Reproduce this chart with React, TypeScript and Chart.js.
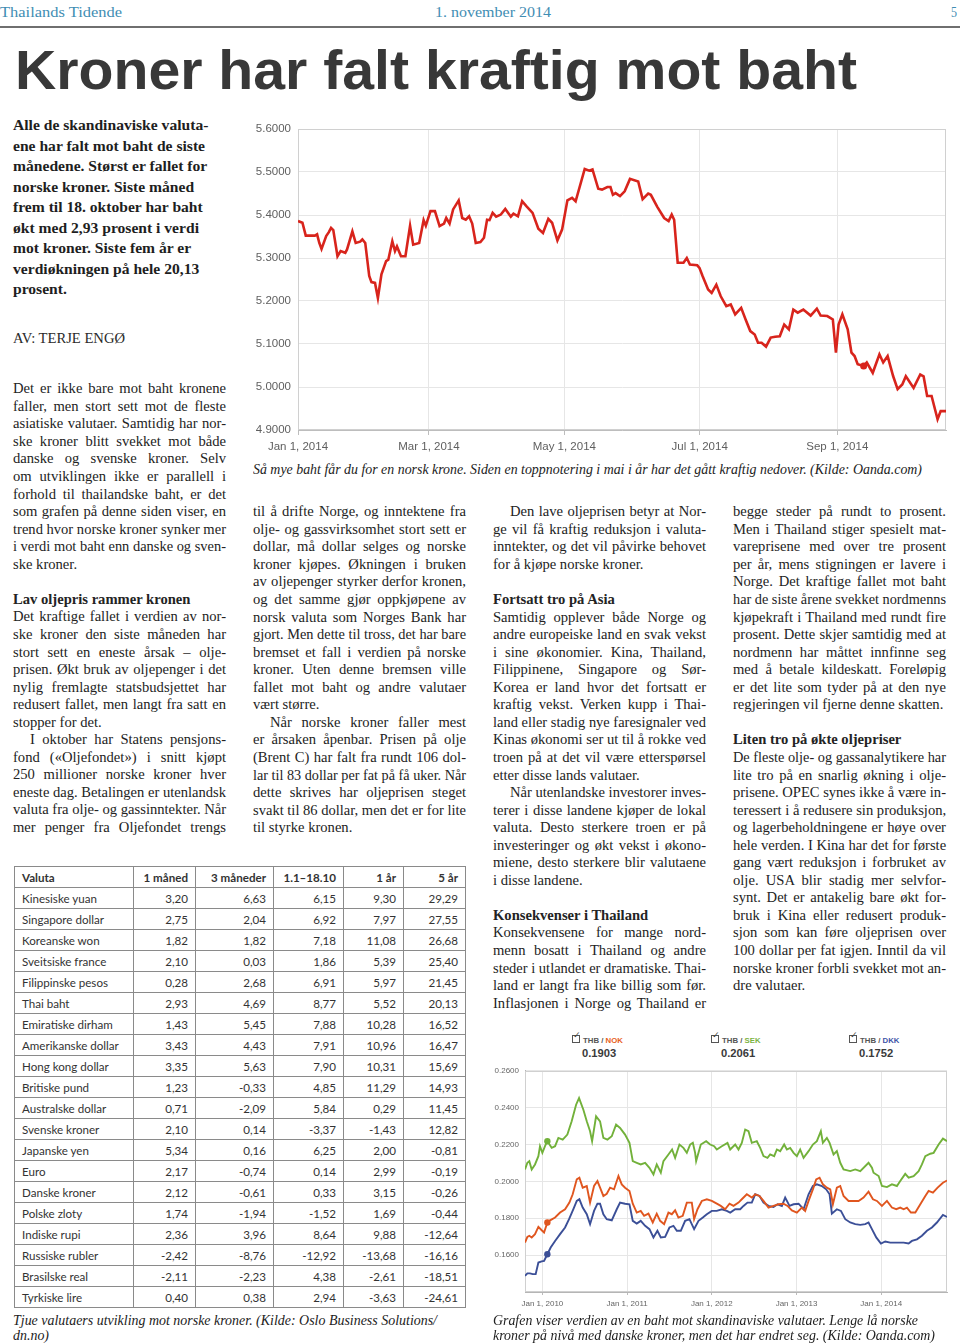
import React, { useEffect, useLayoutEffect, useRef } from "react";
import { Chart, registerables } from "chart.js";
Chart.register(...registerables);

// ---------- Main chart: baht per norsk krone, 2014 (x = days since Jan 1, 2014) ----------
const mainDays = [0, 2, 3.5, 7.6, 8.6, 9.6, 10.6, 12.7, 13.9, 14.9, 15.9, 17.8, 19.2, 21.3, 22.1, 24.5, 26.0, 28.0, 29.0, 30.3,
  32.1, 33.1, 34.7, 36.0, 37.6, 39.7, 40.7, 42.5, 43.7, 44.6, 46.4, 48.4, 50.5, 51.9, 54.6, 56.6, 57.6, 59.7, 61.7, 63.8,
  65.8, 66.8, 68.3, 69.9, 72.4, 74.0, 75.6, 77.1, 78.5, 80.1, 82.2, 83.8, 85.2, 86.3, 87.7, 89.3, 91.4, 93.4, 95.9, 97.1,
  99.1, 101.0, 103.0, 105.7, 108.3, 110.4, 112.8, 114.5, 116.9, 119.0, 121.4, 123.5, 125.1, 129.2, 131.2, 132.7, 135.3, 137.0, 139.4, 140.8,
  141.9, 143.1, 145.1, 147.2, 149.6, 153.3, 155.3, 157.8, 159.0, 161.9, 165.0, 167.0, 168.4, 169.5, 171.1, 173.7, 175.2, 176.6, 179.9, 180.9,
  182.3, 184.8, 186.4, 188.5, 190.5, 193.0, 195.0, 197.0, 199.7, 201.7, 203.8, 205.8, 207.3, 208.9, 210.9, 213.0, 215.0, 217.1, 219.1, 221.2,
  223.2, 225.2, 227.7, 231.0, 233.8, 235.5, 238.5, 241.0, 242.4, 243.6, 245.3, 247.7, 249.4, 250.8, 252.2, 254.9, 256.3, 259.0, 262.0, 263.7,
  265.7, 268.2, 270.2, 272.3, 273.9, 277.4, 280.4, 281.9, 283.5, 285.5, 288.2, 289.6, 292.0];
const mainRates = [5.386, 5.382, 5.352, 5.352, 5.355, 5.335, 5.321, 5.351, 5.360, 5.370, 5.365, 5.304, 5.316, 5.312, 5.320, 5.362, 5.335, 5.338, 5.343, 5.335,
  5.258, 5.244, 5.242, 5.207, 5.262, 5.293, 5.296, 5.339, 5.316, 5.327, 5.304, 5.304, 5.375, 5.331, 5.335, 5.388, 5.375, 5.409, 5.409, 5.374,
  5.380, 5.393, 5.380, 5.413, 5.434, 5.393, 5.389, 5.397, 5.380, 5.335, 5.337, 5.347, 5.389, 5.388, 5.405, 5.396, 5.401, 5.414, 5.396, 5.403,
  5.397, 5.432, 5.420, 5.405, 5.368, 5.358, 5.391, 5.382, 5.341, 5.366, 5.434, 5.440, 5.432, 5.507, 5.503, 5.506, 5.461, 5.459, 5.465, 5.465,
  5.447, 5.451, 5.444, 5.455, 5.484, 5.478, 5.437, 5.450, 5.447, 5.419, 5.393, 5.386, 5.401, 5.389, 5.289, 5.289, 5.300, 5.285, 5.283, 5.277,
  5.258, 5.227, 5.219, 5.238, 5.211, 5.188, 5.192, 5.169, 5.184, 5.157, 5.130, 5.122, 5.103, 5.103, 5.094, 5.115, 5.117, 5.118, 5.145, 5.134,
  5.180, 5.173, 5.180, 5.166, 5.182, 5.166, 5.165, 5.157, 5.080, 5.145, 5.169, 5.134, 5.080, 5.072, 5.053, 5.049, 5.057, 5.033, 5.076, 5.057,
  5.072, 5.025, 4.995, 5.006, 5.025, 4.998, 5.029, 5.025, 4.979, 4.979, 4.925, 4.944, 4.944];
const mainTickDays = [0, 59, 120, 181, 243];
const mainTickLabels = ["Jan 1, 2014", "Mar 1, 2014", "May 1, 2014", "Jul 1, 2014", "Sep 1, 2014"];
const mainMarkerDay = 254.9;

// ---------- Second chart: value of one baht in NOK / SEK / DKK (x = year) ----------
const yearTicks = [2010, 2011, 2012, 2013, 2014];
const sekYears = [2009.795, 2009.823, 2009.846, 2009.874, 2009.913, 2009.953, 2009.972, 2010.000, 2010.031, 2010.059, 2010.110, 2010.150, 2010.189, 2010.240, 2010.295, 2010.346, 2010.398, 2010.433, 2010.484, 2010.524,
  2010.563, 2010.587, 2010.634, 2010.681, 2010.720, 2010.768, 2010.819, 2010.870, 2010.917, 2010.976, 2011.028, 2011.067, 2011.114, 2011.161, 2011.213, 2011.264, 2011.311, 2011.350, 2011.398, 2011.429,
  2011.488, 2011.531, 2011.567, 2011.618, 2011.665, 2011.705, 2011.744, 2011.776, 2011.803, 2011.815, 2011.870, 2011.933, 2011.980, 2012.028, 2012.059, 2012.118, 2012.185, 2012.217, 2012.276, 2012.315,
  2012.354, 2012.394, 2012.433, 2012.472, 2012.531, 2012.571, 2012.610, 2012.657, 2012.689, 2012.736, 2012.768, 2012.807, 2012.854, 2012.886, 2012.925, 2012.965, 2013.004, 2013.043, 2013.083, 2013.142,
  2013.193, 2013.240, 2013.287, 2013.311, 2013.358, 2013.390, 2013.437, 2013.476, 2013.516, 2013.555, 2013.634, 2013.693, 2013.752, 2013.850, 2013.890, 2013.909, 2013.969, 2014.008, 2014.067, 2014.126,
  2014.185, 2014.224, 2014.283, 2014.323, 2014.382, 2014.441, 2014.480, 2014.520, 2014.579, 2014.618, 2014.677, 2014.728, 2014.776];
const sekRates = [0.2065, 0.2101, 0.2110, 0.2065, 0.2092, 0.2137, 0.2191, 0.2155, 0.2191, 0.2218, 0.2182, 0.2191, 0.2236, 0.2227, 0.2254, 0.2326, 0.2416, 0.2452, 0.2389, 0.2326,
  0.2272, 0.2218, 0.2353, 0.2326, 0.2236, 0.2227, 0.2245, 0.2308, 0.2290, 0.2254, 0.2209, 0.2110, 0.2101, 0.2092, 0.2101, 0.2074, 0.2038, 0.2092, 0.2047, 0.2110,
  0.2146, 0.2173, 0.2128, 0.2200, 0.2182, 0.2155, 0.2200, 0.2209, 0.2155, 0.2110, 0.2200, 0.2218, 0.2200, 0.2191, 0.2173, 0.2191, 0.2209, 0.2173, 0.2200, 0.2173,
  0.2209, 0.2281, 0.2272, 0.2209, 0.2218, 0.2182, 0.2137, 0.2128, 0.2146, 0.2137, 0.2173, 0.2164, 0.2200, 0.2173, 0.2182, 0.2155, 0.2137, 0.2173, 0.2128, 0.2164,
  0.2200, 0.2218, 0.2272, 0.2209, 0.2236, 0.2209, 0.2146, 0.2164, 0.2101, 0.2065, 0.2056, 0.2065, 0.2056, 0.2101, 0.2074, 0.2047, 0.2029, 0.1975, 0.1969, 0.1984,
  0.1975, 0.2002, 0.2041, 0.2020, 0.2029, 0.2056, 0.2092, 0.2137, 0.2150, 0.2155, 0.2200, 0.2232, 0.2218];
const nokYears = [2009.795, 2009.823, 2009.846, 2009.874, 2009.913, 2009.953, 2009.992, 2010.020, 2010.059, 2010.091, 2010.150, 2010.209, 2010.268, 2010.319, 2010.358, 2010.406, 2010.437, 2010.476, 2010.524, 2010.563,
  2010.610, 2010.650, 2010.681, 2010.720, 2010.760, 2010.799, 2010.846, 2010.898, 2010.937, 2010.976, 2011.028, 2011.067, 2011.114, 2011.161, 2011.201, 2011.252, 2011.303, 2011.350, 2011.390, 2011.437,
  2011.488, 2011.528, 2011.567, 2011.606, 2011.657, 2011.705, 2011.764, 2011.791, 2011.831, 2011.882, 2011.941, 2012.000, 2012.059, 2012.106, 2012.157, 2012.209, 2012.256, 2012.315, 2012.354, 2012.413,
  2012.472, 2012.512, 2012.563, 2012.610, 2012.669, 2012.728, 2012.787, 2012.846, 2012.894, 2012.945, 2013.004, 2013.063, 2013.102, 2013.142, 2013.193, 2013.232, 2013.272, 2013.311, 2013.358, 2013.398,
  2013.429, 2013.476, 2013.516, 2013.555, 2013.614, 2013.673, 2013.732, 2013.791, 2013.850, 2013.902, 2013.949, 2014.008, 2014.067, 2014.126, 2014.177, 2014.224, 2014.264, 2014.303, 2014.350, 2014.402,
  2014.461, 2014.520, 2014.559, 2014.610, 2014.665, 2014.728, 2014.776];
const nokRates = [0.1668, 0.1699, 0.1705, 0.1696, 0.1714, 0.1753, 0.1735, 0.1723, 0.1777, 0.1789, 0.1804, 0.1831, 0.1849, 0.1885, 0.1930, 0.2011, 0.2020, 0.1966, 0.1975, 0.1885,
  0.1975, 0.2002, 0.1966, 0.1921, 0.1933, 0.1966, 0.1957, 0.2029, 0.1984, 0.1966, 0.1948, 0.1879, 0.1831, 0.1840, 0.1813, 0.1825, 0.1777, 0.1825, 0.1786, 0.1768,
  0.1831, 0.1822, 0.1843, 0.1804, 0.1813, 0.1885, 0.1885, 0.1795, 0.1849, 0.1894, 0.1903, 0.1894, 0.1879, 0.1867, 0.1849, 0.1879, 0.1867, 0.1885, 0.1903, 0.1930,
  0.1912, 0.1930, 0.1921, 0.1894, 0.1858, 0.1867, 0.1876, 0.1879, 0.1867, 0.1843, 0.1831, 0.1858, 0.1840, 0.1894, 0.1957, 0.2011, 0.2020, 0.1984, 0.1966, 0.1957,
  0.1876, 0.1966, 0.1975, 0.1921, 0.1894, 0.1894, 0.1894, 0.1912, 0.1944, 0.1903, 0.1894, 0.1867, 0.1894, 0.1858, 0.1849, 0.1858, 0.1849, 0.1858, 0.1831, 0.1831,
  0.1876, 0.1921, 0.1948, 0.1939, 0.1966, 0.1993, 0.2005];
const dkkYears = [2009.795, 2009.823, 2009.854, 2009.886, 2009.921, 2009.953, 2009.992, 2010.020, 2010.059, 2010.098, 2010.150, 2010.209, 2010.268, 2010.315, 2010.366, 2010.406, 2010.437, 2010.476, 2010.524, 2010.563,
  2010.610, 2010.650, 2010.681, 2010.720, 2010.760, 2010.819, 2010.878, 2010.917, 2010.976, 2011.028, 2011.067, 2011.114, 2011.161, 2011.213, 2011.264, 2011.311, 2011.358, 2011.398, 2011.449, 2011.500,
  2011.547, 2011.587, 2011.634, 2011.685, 2011.736, 2011.791, 2011.843, 2011.894, 2011.941, 2012.000, 2012.059, 2012.118, 2012.177, 2012.217, 2012.276, 2012.335, 2012.374, 2012.421, 2012.472, 2012.512,
  2012.563, 2012.610, 2012.669, 2012.728, 2012.776, 2012.827, 2012.866, 2012.917, 2012.965, 2013.024, 2013.083, 2013.142, 2013.193, 2013.240, 2013.299, 2013.350, 2013.390, 2013.417, 2013.476, 2013.524,
  2013.575, 2013.634, 2013.693, 2013.752, 2013.811, 2013.850, 2013.890, 2013.941, 2013.996, 2014.047, 2014.106, 2014.185, 2014.264, 2014.323, 2014.362, 2014.421, 2014.480, 2014.539, 2014.598, 2014.657,
  2014.728, 2014.776];
const dkkRates = [0.1488, 0.1501, 0.1501, 0.1497, 0.1497, 0.1560, 0.1566, 0.1569, 0.1605, 0.1641, 0.1677, 0.1714, 0.1750, 0.1795, 0.1849, 0.1894, 0.1903, 0.1858, 0.1822, 0.1768,
  0.1840, 0.1879, 0.1879, 0.1822, 0.1795, 0.1789, 0.1849, 0.1885, 0.1879, 0.1876, 0.1786, 0.1771, 0.1786, 0.1759, 0.1741, 0.1696, 0.1732, 0.1696, 0.1699, 0.1750,
  0.1759, 0.1732, 0.1732, 0.1786, 0.1795, 0.1741, 0.1786, 0.1804, 0.1822, 0.1840, 0.1840, 0.1849, 0.1840, 0.1831, 0.1849, 0.1849, 0.1867, 0.1885, 0.1885, 0.1930,
  0.1921, 0.1885, 0.1867, 0.1861, 0.1876, 0.1867, 0.1912, 0.1867, 0.1876, 0.1879, 0.1849, 0.1930, 0.1975, 0.1984, 0.1975, 0.1957, 0.1930, 0.1825, 0.1849, 0.1840,
  0.1795, 0.1777, 0.1768, 0.1764, 0.1768, 0.1777, 0.1741, 0.1696, 0.1663, 0.1674, 0.1668, 0.1668, 0.1668, 0.1663, 0.1677, 0.1686, 0.1705, 0.1732, 0.1750, 0.1777,
  0.1818, 0.1807];
const markerYear = 2010.059;
const legendCodes = ["NOK", "SEK", "DKK"];
const legendValues = ["0.1903", "0.2061", "0.1752"];
const seriesColors = ["#e0561f", "#72b13a", "#3b4f97"];
const legendCodeColors = ["#e8601c", "#7cb342", "#3f55a8"];

// ---------- Table ----------
const tableHeader = ["Valuta", "1 måned", "3 måneder", "1.1–18.10", "1 år", "5 år"];
const currencies = ["Kinesiske yuan", "Singapore dollar", "Koreanske won", "Sveitsiske france", "Filippinske pesos", "Thai baht", "Emiratiske dirham", "Amerikanske dollar", "Hong kong dollar", "Britiske pund",
  "Australske dollar", "Svenske kroner", "Japanske yen", "Euro", "Danske kroner", "Polske zloty", "Indiske rupi", "Russiske rubler", "Brasilske real", "Tyrkiske lire"];
const oneMonth = [3.20, 2.75, 1.82, 2.10, 0.28, 2.93, 1.43, 3.43, 3.35, 1.23, 0.71, 2.10, 5.34, 2.17, 2.12, 1.74, 2.36, -2.42, -2.11, 0.40];
const threeMonths = [6.63, 2.04, 1.82, 0.03, 2.68, 4.69, 5.45, 4.43, 5.63, -0.33, -2.09, 0.14, 0.16, -0.74, -0.61, -1.94, 3.96, -8.76, -2.23, 0.38];
const yearToDate = [6.15, 6.92, 7.18, 1.86, 6.91, 8.77, 7.88, 7.91, 7.90, 4.85, 5.84, -3.37, 6.25, 0.14, 0.33, -1.52, 8.64, -12.92, 4.38, 2.94];
const oneYear = [9.30, 7.97, 11.08, 5.39, 5.97, 5.52, 10.28, 10.96, 10.31, 11.29, 0.29, -1.43, 2.00, 2.99, 3.15, 1.69, 9.88, -13.68, -2.61, -3.63];
const fiveYears = [29.29, 27.55, 26.68, 25.40, 21.45, 20.13, 16.52, 16.47, 15.69, 14.93, 11.45, 12.82, -0.81, -0.19, -0.26, -0.44, -12.64, -16.16, -18.51, -24.61];

// ---------- Article text ----------
const leadLines = ["Alle de skandinaviske valuta-", "ene har falt mot baht de siste", "månedene. Størst er fallet for", "norske kroner. Siste måned",
  "frem til 18. oktober har baht", "økt med 2,93 prosent i verdi", "mot kroner. Siste fem år er", "verdiøkningen på hele 20,13", "prosent."];
const col1 = ["Det er ikke bare mot baht kronene", "faller, men stort sett mot de fleste", "asiatiske valutaer. Samtidig har nor-", "ske kroner blitt svekket mot både",
  "danske og svenske kroner. Selv", "om utviklingen ikke er parallell i", "forhold til thailandske baht, er det", "som grafen på denne siden viser, en",
  "trend hvor norske kroner synker mer", "i verdi mot baht enn danske og sven-", "E:ske kroner.", "", "H:Lav oljepris rammer kronen",
  "Det kraftige fallet i verdien av nor-", "ske kroner den siste måneden har", "stort sett en eneste årsak – olje-", "prisen. Økt bruk av oljepenger i det",
  "nylig fremlagte statsbudsjettet har", "redusert fallet, men langt fra satt en", "E:stopper for det.", "I:I oktober har Statens pensjons-",
  "fond («Oljefondet») i snitt kjøpt", "250 millioner norske kroner hver", "eneste dag. Betalingen er utenlandsk", "valuta fra olje- og gassinntekter. Når",
  "mer penger fra Oljefondet trengs"];
const col2 = ["til å drifte Norge, og inntektene fra", "olje- og gassvirksomhet stort sett er", "dollar, må dollar selges og norske", "kroner kjøpes. Økningen i bruken",
  "av oljepenger styrker derfor kronen,", "og det samme gjør oppkjøpene av", "norsk valuta som Norges Bank har", "gjort. Men dette til tross, det har bare",
  "bremset et fall i verdien på norske", "kroner. Uten denne bremsen ville", "fallet mot baht og andre valutaer", "E:vært større.",
  "I:Når norske kroner faller mest", "er årsaken åpenbar. Prisen på olje", "(Brent C) har falt fra rundt 106 dol-", "lar til 83 dollar per fat på få uker. Når",
  "dette skrives har oljeprisen steget", "svakt til 86 dollar, men det er for lite", "E:til styrke kronen."];
const col3 = ["I:Den lave oljeprisen betyr at Nor-", "ge vil få kraftig reduksjon i valuta-", "inntekter, og det vil påvirke behovet", "E:for å kjøpe norske kroner.", "",
  "H:Fortsatt tro på Asia", "Samtidig opplever både Norge og", "andre europeiske land en svak vekst", "i sine økonomier. Kina, Thailand,",
  "Filippinene, Singapore og Sør-", "Korea er land hvor det fortsatt er", "kraftig vekst. Verken kupp i Thai-", "land eller stadig nye faresignaler ved",
  "Kinas økonomi ser ut til å rokke ved", "troen på at det vil være etterspørsel", "E:etter disse lands valutaer.", "I:Når utenlandske investorer inves-",
  "terer i disse landene kjøper de lokal", "valuta. Desto sterkere troen er på", "investeringer og økt vekst i økono-", "miene, desto sterkere blir valutaene",
  "E:i disse landene.", "", "H:Konsekvenser i Thailand", "Konsekvensene for mange nord-", "menn bosatt i Thailand og andre",
  "steder i utlandet er dramatiske. Thai-", "land er langt fra like billig som før.", "Inflasjonen i Norge og Thailand er"];
const col4 = ["begge steder på rundt to prosent.", "Men i Thailand stiger spesielt mat-", "vareprisene med over tre prosent", "per år, mens stigningen er lavere i",
  "Norge. Det kraftige fallet mot baht", "har de siste årene svekket nordmenns", "kjøpekraft i Thailand med rundt fire", "prosent. Dette skjer samtidig med at",
  "nordmenn har måttet innfinne seg", "med å betale kildeskatt. Foreløpig", "er det lite som tyder på at den nye", "E:regjeringen vil fjerne denne skatten.", "",
  "H:Liten tro på økte oljepriser", "De fleste olje- og gassanalytikere har", "lite tro på en snarlig økning i olje-", "prisene. OPEC synes ikke å være in-",
  "teressert i å redusere sin produksjon,", "og lagerbeholdningene er høye over", "hele verden. I Kina har det for første", "gang vært reduksjon i forbruket av",
  "olje. USA blir stadig mer selvfor-", "synt. Det er antakelig bare økt for-", "bruk i Kina eller redusert produk-", "sjon som kan føre oljeprisen over",
  "100 dollar per fat igjen. Inntil da vil", "norske kroner forbli svekket mot an-", "E:dre valutaer."];

const SERIF = "'Liberation Serif', 'Times New Roman', serif";
const SANS = "'Liberation Sans', Arial, sans-serif";

const framePlugin = {
  id: "frame",
  beforeDatasetsDraw(chart: any, _a: any, opts: any) {
    const { ctx, chartArea } = chart;
    ctx.save();
    ctx.strokeStyle = opts.color || "#ccc";
    ctx.lineWidth = 1;
    ctx.strokeRect(Math.round(chartArea.left) + 0.5, Math.round(chartArea.top) + 0.5,
      Math.round(chartArea.right - chartArea.left) - 1, Math.round(chartArea.bottom - chartArea.top) - 1);
    ctx.restore();
  },
};

function nearestIndex(arr: number[], v: number) {
  let best = 0;
  arr.forEach((a, i) => { if (Math.abs(a - v) < Math.abs(arr[best] - v)) best = i; });
  return best;
}

function MainChart() {
  const ref = useRef<HTMLCanvasElement>(null);
  useEffect(() => {
    const mark = nearestIndex(mainDays, mainMarkerDay);
    const chart = new Chart(ref.current!, {
      type: "line",
      data: {
        datasets: [{
          data: mainDays.map((d, i) => ({ x: d, y: mainRates[i] })),
          borderColor: "#d8241c", borderWidth: 2.6, tension: 0,
          pointRadius: (c: any) => (c.dataIndex === mark ? 3.5 : 0),
          pointBackgroundColor: "#d8241c", pointBorderWidth: 0,
        }],
      },
      options: {
        animation: false, responsive: false, maintainAspectRatio: false,
        layout: { padding: { left: 0, right: 14, top: 19, bottom: 0 } },
        plugins: { legend: { display: false }, tooltip: { enabled: false }, frame: { color: "#d0d0d0" } } as any,
        scales: {
          x: {
            type: "linear", min: 0, max: 292,
            afterBuildTicks: (s: any) => { s.ticks = mainTickDays.map((v) => ({ value: v })); },
            afterFit: (s: any) => { s.height = 30; },
            ticks: {
              autoSkip: false, maxRotation: 0, padding: 5, color: "#5f5f5f",
              font: { family: SANS, size: 11.5 },
              callback: (v: any) => { const i = mainTickDays.indexOf(Number(v)); return i >= 0 ? mainTickLabels[i] : ""; },
            },
            grid: { color: "#e6e6e6", tickLength: 5, tickColor: "#bdbdbd" },
            border: { color: "#bdbdbd" },
          },
          y: {
            min: 4.9, max: 5.6,
            afterFit: (s: any) => { s.width = 48; },
            ticks: { stepSize: 0.1, padding: 7, color: "#5f5f5f", font: { family: SANS, size: 11.5 }, callback: (v: any) => Number(v).toFixed(4) },
            grid: { color: "#e6e6e6", drawTicks: false, tickLength: 0 },
            border: { color: "#bdbdbd" },
          },
        },
      },
      plugins: [framePlugin],
    });
    return () => chart.destroy();
  }, []);
  return <canvas ref={ref} width={710} height={350} style={{ position: "absolute", left: 250, top: 110, width: 710, height: 350 }} />;
}

function BahtChart() {
  const ref = useRef<HTMLCanvasElement>(null);
  useEffect(() => {
    const series = [
      { xs: nokYears, ys: nokRates, color: seriesColors[0] },
      { xs: sekYears, ys: sekRates, color: seriesColors[1] },
      { xs: dkkYears, ys: dkkRates, color: seriesColors[2] },
    ];
    const chart = new Chart(ref.current!, {
      type: "line",
      data: {
        datasets: series.map((s) => {
          const mark = nearestIndex(s.xs, markerYear);
          const n = Math.min(s.xs.length, s.ys.length);
          return {
            data: s.xs.slice(0, n).map((x, i) => ({ x, y: s.ys[i] })),
            borderColor: s.color, borderWidth: 1.9, tension: 0,
            pointRadius: (c: any) => (c.dataIndex === mark ? 3.2 : 0),
            pointBackgroundColor: s.color, pointBorderWidth: 0,
          };
        }),
      },
      options: {
        animation: false, responsive: false, maintainAspectRatio: false,
        layout: { padding: { left: 0, right: 13, top: 9, bottom: 0 } },
        plugins: { legend: { display: false }, tooltip: { enabled: false }, frame: { color: "#d0d0d0" } } as any,
        scales: {
          x: {
            type: "linear", min: 2009.795, max: 2014.776,
            afterBuildTicks: (s: any) => { s.ticks = yearTicks.map((v) => ({ value: v })); },
            afterFit: (s: any) => { s.height = 23; },
            ticks: {
              autoSkip: false, maxRotation: 0, padding: 4, color: "#666",
              font: { family: SANS, size: 8 },
              callback: (v: any) => "Jan 1, " + Math.round(Number(v)),
            },
            grid: { color: "#e6e6e6", tickLength: 3, tickColor: "#bbb" },
            border: { color: "#b5b5b5" },
          },
          y: {
            min: 0.14, max: 0.26,
            afterFit: (s: any) => { s.width = 35; },
            ticks: { stepSize: 0.02, padding: 6, color: "#666", font: { family: SANS, size: 8 }, callback: (v: any) => (Number(v) < 0.141 ? "" : Number(v).toFixed(4)) },
            grid: { color: "#e6e6e6", drawTicks: false, tickLength: 0 },
            border: { color: "#b5b5b5" },
          },
        },
      },
      plugins: [framePlugin],
    });
    return () => chart.destroy();
  }, []);
  return <canvas ref={ref} width={470} height={255} style={{ position: "absolute", left: 490, top: 1060, width: 470, height: 255 }} />;
}

type LineProps = { x: number; y: number; w: number; text: string; mode?: "j" | "l" | "e"; size: number; lh: number; weight?: any; italic?: boolean; color?: string; family?: string; indent?: number };
function Line({ x, y, w, text, mode = "l", size, lh, weight = 400, italic = false, color = "#232323", family = SERIF, indent = 0 }: LineProps) {
  const ww = w - indent;
  return (
    <div data-fit={mode} data-w={ww} style={{
      position: "absolute", left: x + indent, top: y - lh / 2 - 1, width: ww, height: lh, lineHeight: lh + "px",
      fontFamily: family, fontSize: size, fontWeight: weight, fontStyle: italic ? "italic" : "normal", color,
      whiteSpace: "nowrap", textAlign: mode === "j" ? "justify" : "left", textAlignLast: mode === "j" ? "justify" : "left",
      transformOrigin: "0 0",
    } as any}><span>{text}</span></div>
  );
}

function Column({ lines, x, y0, w }: { lines: string[]; x: number; y0: number; w: number }) {
  const step = 17.55;
  return (
    <>
      {lines.map((raw, i) => {
        if (!raw) return null;
        const y = y0 + i * step;
        if (raw.startsWith("H:")) return <Line key={i} x={x} y={y} w={w} text={raw.slice(2)} size={14.6} lh={17.5} weight={700} />;
        let t = raw, indent = 0, mode: "j" | "l" = "j";
        if (t.startsWith("I:")) { t = t.slice(2); indent = 17; }
        if (t.startsWith("E:")) { t = t.slice(2); mode = "l"; }
        return <Line key={i} x={x} y={y} w={w} text={t} size={14.6} lh={17.5} mode={mode} indent={indent} />;
      })}
    </>
  );
}

const fmt = (v: number) => v.toFixed(2).replace(".", ",");

function Table() {
  const widths = [119, 62, 78, 70, 60, 62];
  const rows = currencies.map((c, i) => [c, fmt(oneMonth[i]), fmt(threeMonths[i]), fmt(yearToDate[i]), fmt(oneYear[i]), fmt(fiveYears[i])]);
  const cell = (txt: string, j: number, bold: boolean) => (
    <td key={j} style={{
      border: "1px solid #8a8a8a", padding: j === 0 ? "0 0 0 7px" : "0 7px 0 0", overflow: "hidden",
      textAlign: j === 0 ? "left" : "right", fontWeight: bold ? 700 : 400, whiteSpace: "nowrap",
    }}>{txt}</td>
  );
  return (
    <table style={{
      position: "absolute", left: 14, top: 866, width: 451, height: 442, borderCollapse: "collapse", tableLayout: "fixed",
      fontFamily: "Lato, 'Open Sans', sans-serif", fontSize: 11.6, color: "#333",
    }}>
      <colgroup>{widths.map((w, j) => <col key={j} style={{ width: w }} />)}</colgroup>
      <tbody>
        <tr>{tableHeader.map((h, j) => cell(h, j, true))}</tr>
        {rows.map((r, i) => <tr key={i}>{r.map((t, j) => cell(t, j, false))}</tr>)}
      </tbody>
    </table>
  );
}

function Legend() {
  const xs = [572, 711, 849];
  return (
    <>
      {legendCodes.map((code, i) => (
        <React.Fragment key={code}>
          <div style={{ position: "absolute", left: xs[i], top: 1035, width: 8, height: 8, border: "1px solid #555", boxSizing: "border-box", background: "#fff" }} />
          <div style={{ position: "absolute", left: xs[i] + 1, top: 1030, fontFamily: "'DejaVu Sans', sans-serif", fontSize: 9, fontWeight: 700, color: "#444" }}>✓</div>
          <div style={{ position: "absolute", left: xs[i] + 11, top: 1036, fontFamily: SANS, fontSize: 7.8, fontWeight: 700, color: "#555", whiteSpace: "nowrap", lineHeight: "10px" }}>
            THB / <span style={{ color: legendCodeColors[i] }}>{code}</span>
          </div>
          <div style={{ position: "absolute", left: xs[i] + 10, top: 1046, fontFamily: SANS, fontSize: 11.2, fontWeight: 700, color: "#3a3a3a", lineHeight: "14px" }}>{legendValues[i]}</div>
        </React.Fragment>
      ))}
    </>
  );
}

export default function App() {
  useLayoutEffect(() => {
    const fit = () => {
      document.querySelectorAll<HTMLElement>("[data-fit]").forEach((el) => {
        const mode = el.dataset.fit;
        const w = parseFloat(el.dataset.w || "0");
        const span = el.firstElementChild as HTMLElement;
        el.style.transform = "";
        const nat = span.getBoundingClientRect().width;
        if (nat > 0 && (mode === "e" || nat > w + 0.3)) el.style.transform = `scaleX(${w / nat})`;
      });
    };
    fit();
    if ((document as any).fonts?.ready) (document as any).fonts.ready.then(fit);
  }, []);

  return (
    <div style={{ position: "absolute", left: 0, top: 0, width: 960, height: 1343, background: "#fff", overflow: "hidden" }}>
      {/* masthead */}
      <Line x={0} y={13} w={122} text="Thailands Tidende" mode="e" size={15} lh={18} color="#3f8db3" />
      <Line x={435} y={13} w={116} text="1. november 2014" mode="e" size={15} lh={18} color="#3f8db3" />
      <Line x={951} y={13} w={6} text="5" mode="l" size={15} lh={18} color="#3f8db3" />
      <div style={{ position: "absolute", left: 0, top: 26, width: 960, height: 2, background: "#6f6f6f" }} />
      <Line x={15} y={71} w={842} text="Kroner har falt kraftig mot baht" mode="e" size={56} lh={56} weight={700} color="#383838" family={SANS} />

      {/* lead */}
      {leadLines.map((t, i) => <Line key={i} x={13} y={126 + i * 20.5} w={215} text={t} size={15.6} lh={20} weight={700} color="#1e1e1e" />)}
      <Line x={13} y={339} w={112} text="AV: TERJE ENGØ" mode="e" size={14.6} lh={18} color="#2a2a2a" />

      {/* body columns */}
      <Column lines={col1} x={13} y0={390} w={213} />
      <Column lines={col2} x={253} y0={513} w={213} />
      <Column lines={col3} x={493} y0={513} w={213} />
      <Column lines={col4} x={733} y0={513} w={213} />

      {/* main chart */}
      <MainChart />
      <Line x={253} y={470} w={669} text="Så mye baht får du for en norsk krone. Siden en toppnotering i mai i år har det gått kraftig nedover. (Kilde: Oanda.com)" mode="e" size={13.8} lh={17} italic color="#222" />

      {/* table */}
      <Table />
      <Line x={13} y={1321} w={424} text="Tjue valutaers utvikling mot norske kroner. (Kilde: Oslo Business Solutions/" mode="e" size={14.4} lh={16} italic color="#222" />
      <Line x={13} y={1336} w={36} text="dn.no)" mode="e" size={14.4} lh={16} italic color="#222" />

      {/* second chart */}
      <Legend />
      <BahtChart />
      <Line x={493} y={1321} w={425} text="Grafen viser verdien av en baht mot skandinaviske valutaer. Lenge lå norske" mode="e" size={14.4} lh={16} italic color="#222" />
      <Line x={493} y={1336} w={442} text="kroner på nivå med danske kroner, men det har endret seg. (Kilde: Oanda.com)" mode="e" size={14.4} lh={16} italic color="#222" />
    </div>
  );
}
